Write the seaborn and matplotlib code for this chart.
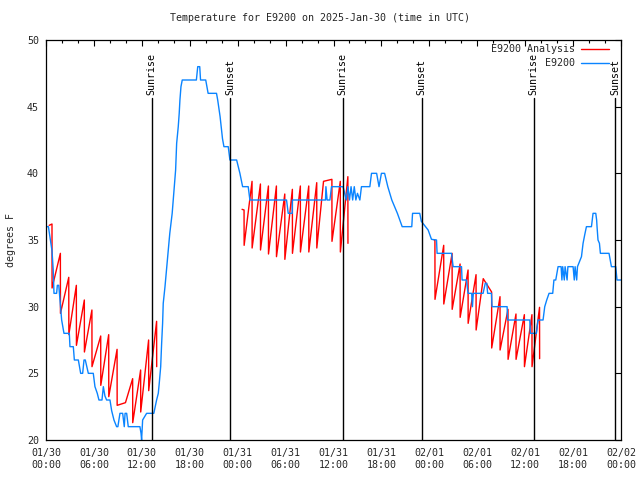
import numpy as np
import pandas as pd
import matplotlib
matplotlib.use("Agg")
import matplotlib.pyplot as plt
import matplotlib.dates as mdates
from matplotlib.lines import Line2D
import seaborn as sns

# ---------------- data (hours since 2025-01-30 00:00 UTC, degrees F) -------------
BASE = pd.Timestamp("2025-01-30 00:00")

obs_hours = [0.0, 0.3, 0.5, 0.75, 0.9, 1.0, 1.33, 1.42, 1.6, 1.75, 1.96, 2.25, 2.92, 3.0, 3.42, 3.55,
             4.05, 4.34, 4.59, 4.76, 4.92, 5.3, 5.92, 6.13, 6.42, 6.63, 7.01, 7.18, 7.38, 7.59, 8.01,
             8.22, 8.51, 8.84, 9.0, 9.26, 9.6, 9.8, 9.9, 10.1, 10.3, 11.76, 11.9, 11.97, 12.1, 12.6,
             13.5, 13.85, 14.06, 14.18, 14.36, 14.48, 14.6, 14.68, 14.9, 15.2, 15.5, 15.8, 16.0,
             16.23, 16.36, 16.56, 16.68, 16.77, 16.9, 17.06, 18.83, 19.0, 19.25, 19.35, 20.0, 20.3,
             21.35, 21.5, 21.8, 21.99, 22.1, 22.28, 22.82, 22.95, 23.03, 23.87, 24.07, 24.28, 24.62,
             25.32, 25.53, 30.12, 30.33, 30.83, 30.85, 35.0, 35.05, 35.2, 35.55, 35.75, 37.2, 37.4,
             37.6, 37.8, 38.0, 38.2, 38.4, 38.6, 38.8, 39.0, 39.3, 39.5, 40.55, 40.76, 41.4, 41.7,
             42.0, 42.4, 42.8, 43.3, 44.0, 44.6, 45.8, 45.9, 46.8, 47.0, 47.85, 48.27, 48.9, 48.97,
             50.78, 50.98, 52.03, 52.1, 52.65, 52.85, 53.3, 53.4, 53.5, 54.73, 55.0, 55.2, 55.3,
             55.78, 55.85, 57.74, 57.8, 60.58, 60.65, 61.41, 61.6, 62.24, 62.45, 62.7, 62.99, 63.45,
             63.6, 63.83, 64.12, 64.5, 64.6, 64.7, 64.9, 65.0, 65.25, 65.35, 66.0, 66.15, 66.25,
             66.45, 66.55, 67.05, 67.25, 67.46, 67.67, 68.3, 68.5, 68.84, 68.95, 69.0, 69.12, 69.3,
             69.42, 70.5, 70.8, 71.34, 71.5, 72.0]
obs_temps = [36.0, 36.0, 35.2, 34.2, 32.8, 31.0, 31.0, 31.6, 31.6, 30.5, 29.0, 28.0, 28.0, 27.0, 27.0, 26.0,
             26.0, 25.0, 25.0, 26.0, 26.0, 25.0, 25.0, 24.0, 23.5, 23.0, 23.0, 24.0, 23.3, 23.0, 23.0,
             22.2, 21.5, 21.0, 21.0, 22.0, 22.0, 21.0, 22.0, 22.0, 21.0, 21.0, 20.5, 20.0, 21.5, 22.0,
             22.0, 23.0, 23.5, 24.25, 25.5, 27.25, 28.75, 30.25, 31.5, 33.5, 35.5, 37.0, 38.5,
             40.25, 42.25, 43.5, 44.5, 45.5, 46.5, 47.0, 47.0, 48.0, 48.0, 47.0, 47.0, 46.0,
             46.0, 45.5, 44.25, 43.25, 42.6, 42.0, 42.0, 41.4, 41.0, 41.0, 40.5, 40.0, 39.0,
             39.0, 38.0, 38.0, 37.0, 37.0, 38.0, 38.0, 39.0, 38.0, 38.0, 39.0, 39.0, 38.5,
             38.0, 39.0, 38.0, 39.0, 38.0, 39.0, 38.0, 38.5, 38.0, 39.0, 39.0, 40.0, 40.0, 39.0,
             40.0, 40.0, 39.0, 38.0, 37.0, 36.0, 36.0, 37.0, 37.0, 36.4, 35.75, 35.05, 35.0, 34.0,
             34.0, 33.0, 33.0, 32.0, 32.0, 31.0, 31.0, 30.0, 31.0, 31.0, 31.75, 31.75, 31.0,
             31.0, 30.0, 30.0, 29.0, 29.0, 28.0, 28.0, 29.0, 29.0, 30.0, 30.5, 31.0, 31.0,
             32.0, 32.0, 33.0, 33.0, 32.0, 33.0, 32.0, 33.0, 32.0, 33.0, 33.0, 32.0, 33.0,
             32.0, 33.0, 33.75, 34.75, 35.4, 36.0, 36.0, 37.0, 37.0, 36.5, 36.0, 35.0, 34.75,
             34.0, 34.0, 33.0, 33.0, 32.0, 32.0]

# analysis series: three runs (segments)
ana1_hours = [0.40, 0.75, 0.76, 1.80, 1.81, 2.85, 2.86, 3.80, 3.81, 4.80, 4.81, 5.75, 5.76, 6.85, 6.86,
              7.85, 7.86, 8.90, 8.91, 9.95, 10.85, 10.86, 11.85, 11.86, 12.85, 12.86, 13.85, 13.86]
ana1_temps = [36.1, 36.2, 31.4, 34.0, 29.5, 32.2, 27.9, 31.6, 27.1, 30.5, 26.6, 29.75, 25.5, 27.8, 24.1,
              27.9, 23.25, 26.8, 22.6, 22.8, 24.6, 21.3, 25.25, 22.1, 27.5, 23.7, 28.9, 25.5]

ana2_hours = [24.55, 24.80, 24.81, 25.80, 25.81, 26.85, 26.86, 27.85, 27.86, 28.85, 28.86, 29.90, 29.91,
              30.85, 30.86, 31.85, 31.86, 32.90, 32.91, 33.90, 33.91, 34.75, 35.80, 35.81, 36.85, 36.86,
              37.80, 37.81]
ana2_temps = [37.3, 37.25, 34.6, 39.4, 34.4, 39.2, 34.25, 39.05, 33.95, 39.05, 33.75, 38.45, 33.55,
              38.8, 34.0, 39.05, 34.1, 39.05, 34.1, 39.3, 34.4, 39.4, 39.55, 34.9, 39.4, 34.1,
              39.75, 34.75]

ana3_hours = [48.60, 48.70, 48.71, 49.80, 49.81, 50.85, 50.86, 51.85, 51.86, 52.85, 52.86, 53.85, 53.86,
              54.75, 55.80, 55.81, 56.85, 56.86, 57.85, 57.86, 58.85, 58.86, 59.90, 59.91, 60.85, 60.86,
              61.80, 61.81]
ana3_temps = [35.0, 35.0, 30.55, 34.6, 30.2, 34.0, 29.8, 33.2, 29.2, 32.75, 28.75, 32.4, 28.25,
              32.1, 31.1, 26.9, 30.75, 26.75, 29.8, 26.05, 29.45, 26.05, 29.4, 25.5, 29.4, 25.5,
              29.95, 26.1]

sunrise_hours = [13.23, 37.17, 61.08]
sunset_hours = [23.03, 47.06, 71.25]

TITLE = "Temperature for E9200 on 2025-Jan-30 (time in UTC)"
YLABEL = "degrees F"
LEGEND_ANA = "E9200 Analysis"
LEGEND_OBS = "E9200"

# ---------------- build frames ----------------
def to_time(hours):
    return BASE + pd.to_timedelta(np.asarray(hours, dtype=float), unit="h")

obs = pd.DataFrame({"time": to_time(obs_hours), "temp": obs_temps})
ana = pd.concat([
    pd.DataFrame({"time": to_time(h), "temp": v, "run": i})
    for i, (h, v) in enumerate([(ana1_hours, ana1_temps), (ana2_hours, ana2_temps), (ana3_hours, ana3_temps)])
], ignore_index=True)

RED = "#ff0000"
BLUE = "#0a84ff"

sns.set_style("white")
plt.rcParams["font.family"] = ["DejaVu Sans Mono", "DejaVu Sans"]
plt.rcParams["font.size"] = 7.2

fig = plt.figure(figsize=(6.4, 4.8), dpi=100)
ax = fig.add_axes([46 / 640, 40 / 480, (621 - 46) / 640, 400 / 480])

sns.lineplot(data=ana, x="time", y="temp", units="run", estimator=None, sort=False,
             color=RED, lw=1.0, ax=ax, legend=False)
sns.lineplot(data=obs, x="time", y="temp", estimator=None, sort=False,
             color=BLUE, lw=1.0, ax=ax, legend=False)

ax.set_xlim(BASE, BASE + pd.Timedelta(hours=72))
ax.set_ylim(20, 50)

# sunrise / sunset markers
for hrs, lab in ((sunrise_hours, "Sunrise"), (sunset_hours, "Sunset")):
    for t in to_time(hrs):
        ax.axvline(t, ymin=0, ymax=(440 - 98) / 400, color="black", lw=1.0)
        ax.text(t, 45.85, lab, rotation=90, ha="center", va="bottom", fontsize=7.2, color="black")

# ticks
ax.xaxis.set_major_locator(mdates.HourLocator(byhour=[0, 6, 12, 18]))
ax.xaxis.set_minor_locator(mdates.HourLocator(byhour=range(0, 24, 2)))
ax.xaxis.set_major_formatter(mdates.DateFormatter("%m/%d\n%H:%M"))
ax.set_yticks([20, 25, 30, 35, 40, 45, 50])
ax.tick_params(which="both", direction="in", top=True, right=True, color="black",
               labelsize=7.2, width=0.8)
ax.tick_params(which="major", length=4.5)
ax.tick_params(which="minor", length=2.5)
ax.tick_params(axis="x", pad=6)
ax.tick_params(axis="y", pad=5)
for s in ax.spines.values():
    s.set_color("black")
    s.set_linewidth(0.9)

ax.set_xlabel("")
ax.set_ylabel(YLABEL, fontsize=7.2, labelpad=8)
fig.text(0.5, 1 - 18 / 480, TITLE, ha="center", va="center", fontsize=7.2)

# legend (drawn in axes fraction coordinates)
tr = ax.transAxes
def ax_x(px):
    return (px - 46) / 575
def ax_y(py):
    return (440 - py) / 400
for py, lab, col in ((49, LEGEND_ANA, RED), (63, LEGEND_OBS, BLUE)):
    ax.text(ax_x(575), ax_y(py), lab, transform=tr, ha="right", va="center", fontsize=7.2)
    ax.add_line(Line2D([ax_x(581), ax_x(609)], [ax_y(py), ax_y(py)], transform=tr, color=col, lw=1.0))

fig.savefig("out.png", dpi=100)
